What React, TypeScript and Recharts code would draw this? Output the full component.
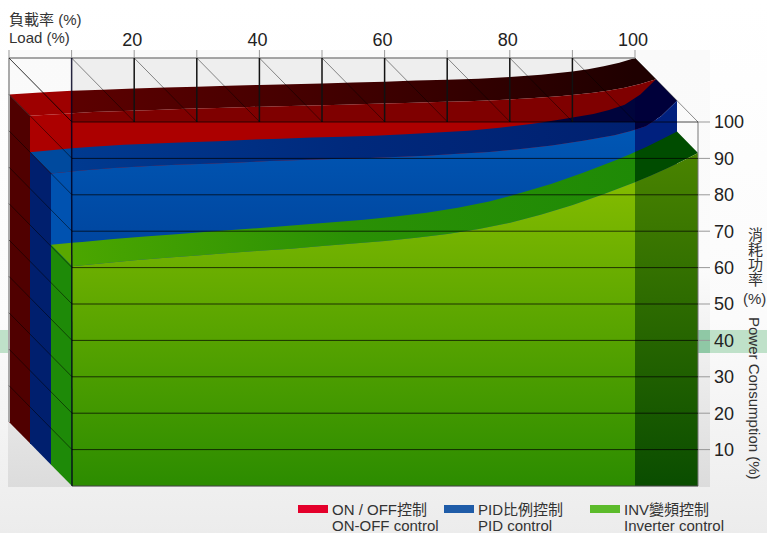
import { CSSProperties } from 'react';
import { Scatter, ScatterChart, XAxis, YAxis } from 'recharts';

// load steps and the power consumption
const LOADS = [0, 5, 10, 15, 20, 25, 30, 35, 40, 45, 50, 55, 60, 65, 70, 75, 80, 85, 90, 92.5, 95, 97.5, 100];
const ON_OFF = [90, 90.5, 91, 91.3, 91.6, 91.9, 92.1, 92.4, 92.6, 92.8, 93, 93.3, 93.5, 93.8, 94, 94.3, 94.8, 95.4, 96.3, 96.9, 97.7, 98.7, 100];
const PID = [80, 80.8, 81.5, 82, 82.4, 82.7, 83, 83.4, 83.7, 84, 84.2, 84.5, 84.9, 85.4, 85.9, 86.7, 87.7, 89, 90.5, 91.6, 93, 95.8, 100];
const INV = [60.4, 61.2, 62, 62.7, 63.3, 64, 64.6, 65.2, 65.9, 66.6, 67.3, 68.2, 69.2, 70.6, 72.3, 74.6, 77.2, 80.2, 83.5, 85.3, 87.2, 89.3, 91.5];

const LOAD_TICKS = [0, 10, 20, 30, 40, 50, 60, 70, 80, 90, 100];
const POWER_TICKS = [10, 20, 30, 40, 50, 60, 70, 80, 90, 100];
const LEGEND_COLORS = ['#e4002b', '#1f5ca8', '#5cbb2b'];
const LEGEND_LINE1 = ['ON / OFF控制', 'PID比例控制', 'INV變頻控制'];
const LEGEND_LINE2 = ['ON-OFF control', 'PID control', 'Inverter control'];
const LEGEND_X = [298, 444, 590];

// how far the front plane sits from the back plane, in axis units
const DEPTH_X = 63 / 6.26;
const DEPTH_Y = 64 / 3.64;
const FONT = '"Liberation Sans", "Noto Sans CJK TC", sans-serif';

type Pt = { x: number; y: number };

const at = (load: number, value: number, depth: number): Pt => ({
  x: load + depth * DEPTH_X,
  y: value - depth * DEPTH_Y,
});

const curve = (values: number[], depth: number) => LOADS.map((l, i) => at(l, values[i], depth));
const ribbon = (values: number[], d0: number, d1: number) => [
  ...curve(values, d0),
  ...curve(values, d1).reverse(),
];
const face = (values: number[], depth: number) => [
  ...curve(values, depth),
  at(100, 0, depth),
  at(0, 0, depth),
];
const cap = (values: number[], d0: number, d1: number) => [
  at(0, values[0], d0),
  at(0, values[0], d1),
  at(0, 0, d1),
  at(0, 0, d0),
];

function poly(key: string, pts: Pt[], fill: string, clip?: string) {
  return (
    <Scatter
      key={key}
      yAxisId="plane"
      data={pts}
      isAnimationActive={false}
      shape={() => <g />}
      line={{ fill, stroke: 'none', clipPath: clip ? `url(#${clip})` : undefined } as any}
      legendType="none"
    />
  );
}

function stroke(key: string, pts: Pt[], color: string, width = 1, axis = 'plane') {
  return (
    <Scatter
      key={key}
      yAxisId={axis}
      data={pts}
      isAnimationActive={false}
      shape={() => <g />}
      line={{ fill: 'none', stroke: color, strokeWidth: width } as any}
      legendType="none"
    />
  );
}

const label: CSSProperties = { position: 'absolute', color: '#333', fontSize: 15, lineHeight: '15px', whiteSpace: 'nowrap' };

export default function App() {
  return (
    <div
      style={{
        position: 'absolute',
        left: 0,
        top: 0,
        width: 767,
        height: 533,
        overflow: 'hidden',
        fontFamily: FONT,
        background: 'linear-gradient(#ffffff 0%, #fbfbfb 60%, #ececec 100%)',
      }}
    >
      {/* pale green page band behind the chart */}
      <div style={{ position: 'absolute', left: 0, top: 330, width: 767, height: 23, background: '#bfe1c9' }} />
      <div
        style={{
          position: 'absolute',
          left: 8,
          top: 50,
          width: 702,
          height: 437,
          background: 'linear-gradient(#fafafa 0%, #fbfbfb 50%, #dcdcdc 100%)',
        }}
      />
      <div style={{ position: 'absolute', left: 698, top: 330, width: 12, height: 23, background: '#8fc8a5' }} />

      <div style={{ position: 'absolute', left: 0, top: 0 }}>
        <ScatterChart width={767} height={533} margin={{ top: 0, right: 0, bottom: 47, left: 9 }}>
          <defs>
            <clipPath id="clipLeft"><rect x={0} y={0} width={72} height={533} /></clipPath>
            <clipPath id="clipTop"><rect x={72} y={0} width={563} height={122} /></clipPath>
            <clipPath id="clipFront"><rect x={72} y={122} width={563} height={411} /></clipPath>
            <clipPath id="clipRight"><rect x={635} y={0} width={132} height={533} /></clipPath>
            <linearGradient id="redTop" gradientUnits="userSpaceOnUse" x1={72} y1={0} x2={635} y2={0}>
              <stop offset="0" stopColor="#5c0000" />
              <stop offset="0.6" stopColor="#3a0000" />
              <stop offset="1" stopColor="#1f0000" />
            </linearGradient>
            <linearGradient id="blueTop" gradientUnits="userSpaceOnUse" x1={72} y1={0} x2={635} y2={0}>
              <stop offset="0" stopColor="#003a90" />
              <stop offset="0.5" stopColor="#00297c" />
              <stop offset="1" stopColor="#002070" />
            </linearGradient>
            <linearGradient id="blueFront" gradientUnits="userSpaceOnUse" x1={0} y1={122} x2={0} y2={250}>
              <stop offset="0" stopColor="#0058b6" />
              <stop offset="1" stopColor="#00459e" />
            </linearGradient>
            <linearGradient id="greenTop" gradientUnits="userSpaceOnUse" x1={72} y1={0} x2={635} y2={0}>
              <stop offset="0" stopColor="#4ba600" />
              <stop offset="0.5" stopColor="#2a9005" />
              <stop offset="1" stopColor="#1f8a06" />
            </linearGradient>
            <linearGradient id="greenFront" gradientUnits="userSpaceOnUse" x1={0} y1={152} x2={0} y2={486}>
              <stop offset="0" stopColor="#8cc000" />
              <stop offset="1" stopColor="#2c8c00" />
            </linearGradient>
            <linearGradient id="greenRight" gradientUnits="userSpaceOnUse" x1={0} y1={152} x2={0} y2={486}>
              <stop offset="0" stopColor="#4a8400" />
              <stop offset="1" stopColor="#0a4d00" />
            </linearGradient>
          </defs>

          <XAxis
            type="number"
            dataKey="x"
            orientation="top"
            height={58}
            domain={[0, 100 + DEPTH_X]}
            ticks={LOAD_TICKS}
            interval={0}
            tickFormatter={(v: number) => (v > 0 && v % 20 === 0 ? String(v) : '')}
            axisLine={false}
            tickLine={{ stroke: '#999' }}
            tickSize={8}
            tickMargin={4}
            tick={{ fontSize: 18, fill: '#222', fontFamily: FONT, dx: -2 }}
          />
          <YAxis yAxisId="plane" type="number" dataKey="y" hide domain={[-DEPTH_Y, 100]} />
          <YAxis
            yAxisId="front"
            type="number"
            dataKey="y"
            orientation="right"
            width={69}
            domain={[0, 100 + DEPTH_Y]}
            ticks={POWER_TICKS}
            interval={0}
            axisLine={false}
            tickLine={{ stroke: '#999' }}
            tickSize={12}
            tickMargin={4}
            tick={{ fontSize: 18, fill: '#222', fontFamily: FONT }}
          />

          {/* back wall */}
          {poly('wall', [at(10, 100, 0), at(100, 100, 0), { x: 100, y: 100 - DEPTH_Y }, at(0, 100, 1)], '#eeeeee')}

          {/* on/off ribbon, furthest back */}
          {poly('redTopL', ribbon(ON_OFF, 0, 1 / 3), '#9e0000', 'clipLeft')}
          {poly('redTopT', ribbon(ON_OFF, 0, 1 / 3), 'url(#redTop)', 'clipTop')}
          {poly('redTopR', ribbon(ON_OFF, 0, 1 / 3), '#1f0000', 'clipRight')}
          {poly('redFaceL', face(ON_OFF, 1 / 3), '#ac0000', 'clipLeft')}
          {poly('redFaceF', face(ON_OFF, 1 / 3), '#ac0000', 'clipFront')}
          {poly('redFaceT', face(ON_OFF, 1 / 3), '#7f0000', 'clipTop')}
          {poly('redFaceR', face(ON_OFF, 1 / 3), '#7f0000', 'clipRight')}
          {poly('redCap', cap(ON_OFF, 0, 1 / 3), '#500000')}

          {/* pid ribbon */}
          {poly('blueTopL', ribbon(PID, 1 / 3, 2 / 3), '#004a9e', 'clipLeft')}
          {poly('blueTopF', ribbon(PID, 1 / 3, 2 / 3), 'url(#blueTop)', 'clipFront')}
          {poly('blueTopT', ribbon(PID, 1 / 3, 2 / 3), '#00043c', 'clipTop')}
          {poly('blueTopR', ribbon(PID, 1 / 3, 2 / 3), '#00003a', 'clipRight')}
          {poly('blueFaceL', face(PID, 2 / 3), '#0052b0', 'clipLeft')}
          {poly('blueFaceF', face(PID, 2 / 3), 'url(#blueFront)', 'clipFront')}
          {poly('blueFaceR', face(PID, 2 / 3), '#00207e', 'clipRight')}
          {poly('blueCap', cap(PID, 1 / 3, 2 / 3), '#001f6e')}

          {/* inverter ribbon, nearest */}
          {poly('greenTopL', ribbon(INV, 2 / 3, 1), '#5aa800', 'clipLeft')}
          {poly('greenTopF', ribbon(INV, 2 / 3, 1), 'url(#greenTop)', 'clipFront')}
          {poly('greenTopR', ribbon(INV, 2 / 3, 1), '#004c00', 'clipRight')}
          {poly('greenFaceF', face(INV, 1), 'url(#greenFront)', 'clipFront')}
          {poly('greenFaceR', face(INV, 1), 'url(#greenRight)', 'clipRight')}
          {poly('greenCap', cap(INV, 2 / 3, 1), '#1e8a08')}

          {/* box edges */}
          {stroke('edgeTop', [at(0, 100, 0), at(100, 100, 0)], '#888', 1.5)}
          {stroke('edgeLeft', [at(0, 100, 0), at(0, 0, 0)], '#aaa', 2)}
          {stroke('edgeRight', [at(100, 100, 1), at(100, 0, 1)], '#777', 1)}
          {stroke('edgeBottom', [at(0, 0, 1), at(100, 0, 1)], '#444', 1)}

          {/* grid on the top, left and front planes */}
          {LOAD_TICKS.map((l) =>
            stroke(`diag${l}`, [at(l, 100, 0), at(l, 100, 1)], 'rgba(0,0,0,0.45)')
          )}
          {LOAD_TICKS.filter((l) => l > 10 && l < 100).map((l) =>
            stroke(`wall${l}`, [at(l, 100, 0), { x: l, y: 100 - DEPTH_Y }], '#111', 1.5)
          )}
          {stroke('corner', [at(10, 100, 0), at(0, 0, 1)], 'rgba(0,0,30,0.85)', 1.5)}
          {POWER_TICKS.map((v) =>
            stroke(`side${v}`, [at(0, v, 0), at(0, v, 1)], 'rgba(0,0,0,0.5)')
          )}
          {POWER_TICKS.map((v) =>
            stroke(`grid${v}`, [{ x: DEPTH_X, y: v }, { x: 100 + DEPTH_X, y: v }], 'rgba(0,0,0,0.7)', 1, 'front')
          )}
        </ScatterChart>
      </div>

      <div style={{ ...label, left: 9, top: 12 }}>負載率 (%)</div>
      <div style={{ ...label, left: 9, top: 30 }}>Load (%)</div>

      <div style={{ ...label, left: 747, top: 227, writingMode: 'vertical-rl' }}>消耗功率</div>
      <div style={{ ...label, left: 743, top: 291 }}>(%)</div>
      <div style={{ ...label, left: 747, top: 317, writingMode: 'vertical-rl' }}>Power Consumption (%)</div>

      {LEGEND_X.map((x, i) => (
        <div key={LEGEND_LINE1[i]}>
          <div style={{ position: 'absolute', left: x, top: 505, width: 30, height: 8, background: LEGEND_COLORS[i] }} />
          <div style={{ ...label, left: x + 34, top: 502 }}>{LEGEND_LINE1[i]}</div>
          <div style={{ ...label, left: x + 34, top: 518 }}>{LEGEND_LINE2[i]}</div>
        </div>
      ))}
    </div>
  );
}
